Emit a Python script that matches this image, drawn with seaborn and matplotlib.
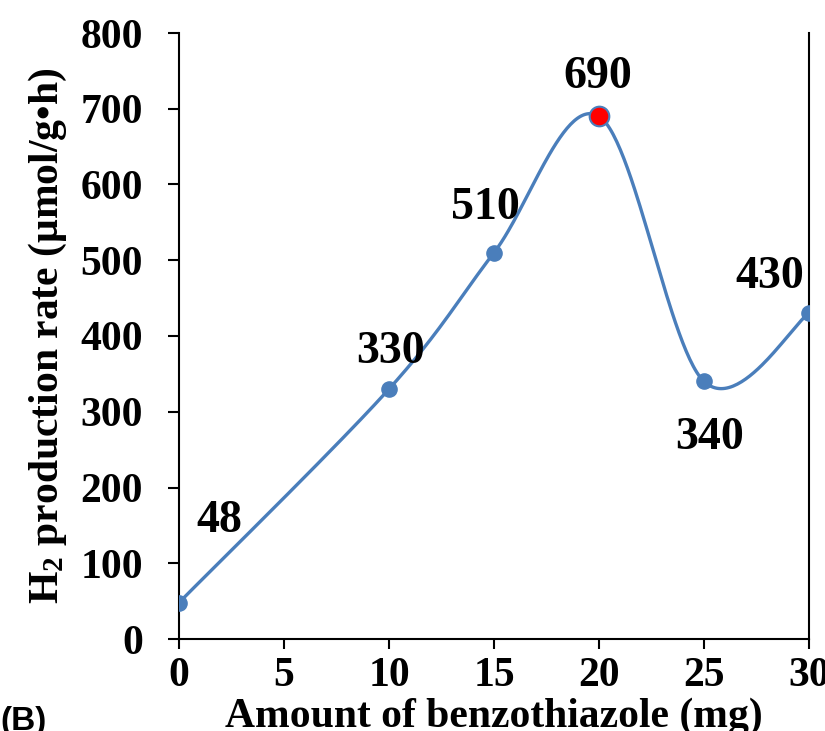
import numpy as np
import pandas as pd
import matplotlib
matplotlib.use("Agg")
import matplotlib.pyplot as plt
import seaborn as sns

# --- data ---
amount_mg = [0, 10, 15, 20, 25, 30]
h2_rate = [48, 330, 510, 690, 340, 430]
best_idx = 3  # 20 mg, highlighted in red
x_ticks = [0, 5, 10, 15, 20, 25, 30]
y_ticks = [0, 100, 200, 300, 400, 500, 600, 700, 800]

# label offsets (points) relative to each marker
label_offsets = [(29, 59), (1, 27), (-6, 32), (-1, 28), (4, -41), (-28, 26)]

BLUE = "#4a7ebb"
SERIF = "Liberation Serif"

sns.set_theme(style="white")
plt.rcParams["font.family"] = [SERIF, "DejaVu Serif"]
plt.rcParams["font.weight"] = "bold"
plt.rcParams["text.color"] = "black"
plt.rcParams["axes.labelcolor"] = "black"
plt.rcParams["mathtext.fontset"] = "custom"
plt.rcParams["mathtext.rm"] = "Liberation Serif:bold"
plt.rcParams["mathtext.it"] = "Liberation Serif:bold"
plt.rcParams["mathtext.bf"] = "Liberation Serif:bold"

df = pd.DataFrame({"amount": amount_mg, "rate": h2_rate})


def excel_smooth(x, y, n=60):
    # Catmull-Rom style bezier, the way Excel draws "smoothed line"
    p = np.column_stack([x, y]).astype(float)
    pts = np.vstack([p[0], p, p[-1]])
    t = np.linspace(0, 1, n)[:, None]
    out = []
    for i in range(1, len(pts) - 2):
        p0, p1, p2, p3 = pts[i - 1], pts[i], pts[i + 1], pts[i + 2]
        c1 = p1 + (p2 - p0) / 6
        c2 = p2 - (p3 - p1) / 6
        seg = ((1 - t) ** 3) * p1 + 3 * ((1 - t) ** 2) * t * c1 + 3 * (1 - t) * t ** 2 * c2 + t ** 3 * p2
        out.append(seg)
    out = np.vstack(out)
    return out[:, 0], out[:, 1]


sx, sy = excel_smooth(df["amount"], df["rate"])
curve = pd.DataFrame({"amount": sx, "rate": sy})

fig = plt.figure(figsize=(8.25, 7.31), dpi=100)
ax = fig.add_axes([179 / 825, 92 / 731, 630 / 825, 606 / 731])

sns.lineplot(data=curve, x="amount", y="rate", ax=ax, color=BLUE, linewidth=2.4,
             sort=False, estimator=None, zorder=2)
sns.scatterplot(data=df.drop(index=best_idx), x="amount", y="rate", ax=ax,
                color=BLUE, s=120, edgecolor=BLUE, linewidth=1, zorder=3)
sns.scatterplot(data=df.iloc[[best_idx]], x="amount", y="rate", ax=ax,
                color="#ff0000", s=200, edgecolor=BLUE, linewidth=1.5, zorder=4)

for (xv, yv), off in zip(zip(amount_mg, h2_rate), label_offsets):
    ax.annotate(str(yv), (xv, yv), xytext=off, textcoords="offset points",
                ha="center", va="center", fontsize=33, fontweight="bold",
                family=SERIF, color="black")

ax.set_xlim(0, 30)
ax.set_ylim(0, 800)
ax.set_xticks(x_ticks)
ax.set_yticks(y_ticks)
ax.tick_params(axis="y", direction="out", length=8, width=1.5, pad=18,
               labelsize=30, left=True, colors="black")
ax.tick_params(axis="x", direction="out", length=7, width=1.5, pad=6,
               labelsize=30, bottom=True, colors="black")
for lab in ax.get_xticklabels() + ax.get_yticklabels():
    lab.set_fontweight("bold")
    lab.set_clip_on(False)

for side in ["left", "bottom", "right"]:
    ax.spines[side].set_visible(True)
    ax.spines[side].set_color("black")
    ax.spines[side].set_linewidth(1.5)
ax.spines["top"].set_visible(False)

ax.set_ylabel("H$_2$ production rate (μmol/g•h)", fontsize=30, fontweight="bold",
              labelpad=8, color="black")
ax.set_xlabel("Amount of benzothiazole (mg)", fontsize=30, fontweight="bold",
              labelpad=2, color="black")

fig.text(0.0, 1 - 706 / 731, "(B)", ha="left", va="top", fontsize=24,
         fontweight="bold", family="Liberation Sans", color="black")

fig.savefig("out.png", dpi=100)
